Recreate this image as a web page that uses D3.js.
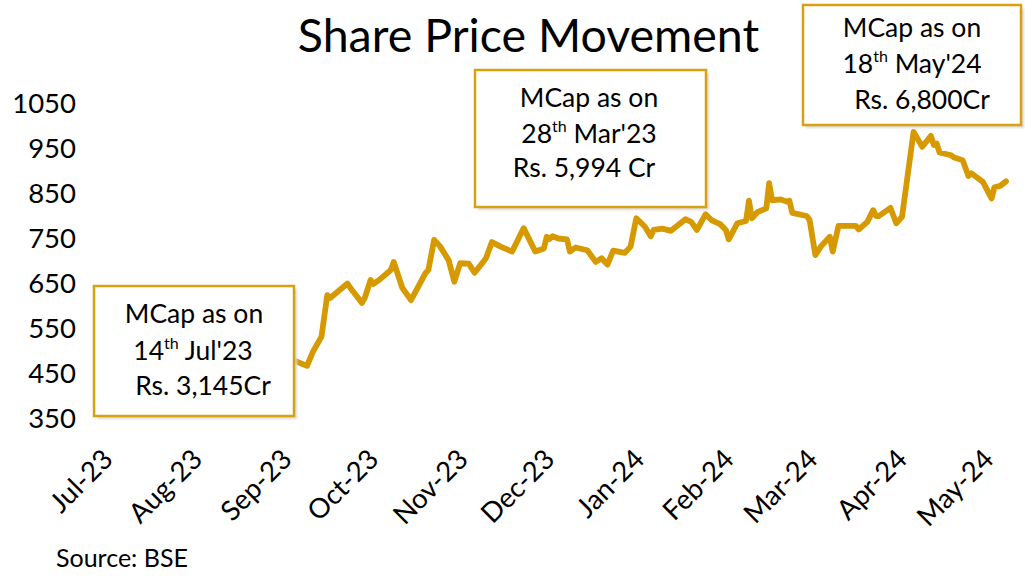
<!DOCTYPE html>
<html>
<head>
<meta charset="utf-8">
<script src="https://cdn.jsdelivr.net/npm/d3@7"></script>
<style>
  body { margin: 0; background: #fff; }
  svg { display: block; font-family: Lato, "Liberation Sans", sans-serif; }
</style>
</head>
<body>
<svg id="chart" width="1025" height="577"></svg>
<script>
// Daily closing share price (Rs.), Jul-23 to May-24
const priceDates = [
  "2023-07-14","2023-08-03","2023-08-21","2023-09-06","2023-09-14","2023-09-19","2023-09-21","2023-09-24",
  "2023-09-26","2023-09-27","2023-10-03","2023-10-04","2023-10-08","2023-10-09","2023-10-11","2023-10-12",
  "2023-10-14","2023-10-18","2023-10-19","2023-10-22","2023-10-25","2023-10-30","2023-10-31","2023-11-02",
  "2023-11-04","2023-11-07","2023-11-09","2023-11-11","2023-11-14","2023-11-16","2023-11-19","2023-11-20",
  "2023-11-22","2023-11-25","2023-11-29","2023-12-03","2023-12-07","2023-12-10","2023-12-11","2023-12-12",
  "2023-12-13","2023-12-15","2023-12-18","2023-12-19","2023-12-21","2023-12-25","2023-12-28","2023-12-30",
  "2024-01-01","2024-01-03","2024-01-07","2024-01-09","2024-01-11","2024-01-14","2024-01-16","2024-01-17",
  "2024-01-20","2024-01-23","2024-01-28","2024-01-30","2024-02-01","2024-02-04","2024-02-06","2024-02-09",
  "2024-02-11","2024-02-12","2024-02-15","2024-02-18","2024-02-19","2024-02-20","2024-02-22","2024-02-25",
  "2024-02-26","2024-02-27","2024-03-01","2024-03-03","2024-03-04","2024-03-05","2024-03-10","2024-03-11",
  "2024-03-13","2024-03-15","2024-03-18","2024-03-19","2024-03-21","2024-03-27","2024-03-28","2024-03-31",
  "2024-04-02","2024-04-03","2024-04-04","2024-04-08","2024-04-10","2024-04-12","2024-04-16","2024-04-19",
  "2024-04-22","2024-04-23","2024-04-24","2024-04-25","2024-04-29","2024-04-30","2024-05-03","2024-05-05",
  "2024-05-06","2024-05-10","2024-05-13","2024-05-14","2024-05-16","2024-05-18"
];
const prices = [
  405, 425, 445, 462, 480, 467, 498, 532,
  624, 618, 650, 640, 607, 618, 658, 649,
  658, 680, 698, 640, 613, 673, 680, 747,
  733, 702, 654, 695, 694, 674, 698, 707,
  742, 732, 721, 773, 721, 728, 754, 749,
  755, 750, 748, 721, 730, 724, 698, 706,
  692, 723, 718, 732, 795, 776, 755, 769,
  772, 767, 793, 787, 769, 804, 791, 782,
  769, 748, 784, 789, 834, 795, 809, 817,
  873, 835, 837, 832, 834, 807, 800, 791,
  713, 733, 754, 721, 778, 778, 770, 787,
  813, 800, 800, 818, 784, 798, 987, 954,
  978, 958, 961, 941, 935, 930, 924, 889,
  895, 876, 839, 864, 867, 877
];

// Axis ticks
const yTicks = [350, 450, 550, 650, 750, 850, 950, 1050];
const monthTicks = ["2023-07-01","2023-08-01","2023-09-01","2023-10-01","2023-11-01","2023-12-01",
                    "2024-01-01","2024-02-01","2024-03-01","2024-04-01","2024-05-01"];

// Market-cap callouts: each line is [text, superscript, text]
const noteJul = [["MCap as on", "", ""], ["14", "th", " Jul'23"], ["Rs. 3,145Cr", "", ""]];
const noteMar = [["MCap as on", "", ""], ["28", "th", " Mar'23"], ["Rs. 5,994 Cr", "", ""]];
const noteMay = [["MCap as on", "", ""], ["18", "th", " May'24"], ["Rs. 6,800Cr", "", ""]];

const parse = d3.utcParse("%Y-%m-%d");
const series = priceDates.map((d, i) => ({ date: parse(d), value: prices[i] }));

const svg = d3.select("#chart");
const lineColor = "#d69a00";
const boxColor = "#d8a112";
const fontStack = "Lato, 'Liberation Sans', sans-serif";

const x = d3.scaleUtc()
  .domain([parse("2023-07-01"), parse("2024-05-18")])
  .range([76, 1006]);
const y = d3.scaleLinear()
  .domain([350, 1050])
  .range([418.5, 103.5]);

// Y axis: labels only
const yAxis = svg.append("g")
  .attr("transform", "translate(76,0)")
  .call(d3.axisLeft(y).tickValues(yTicks).tickSize(0).tickPadding(0).tickFormat(d3.format("d")));
yAxis.select(".domain").remove();
yAxis.selectAll("text")
  .attr("fill", "#000")
  .style("font-size", "27.5px")
  .style("font-family", fontStack);

// X axis: rotated month labels
const xAxis = svg.append("g")
  .attr("transform", "translate(0,461)")
  .call(d3.axisBottom(x).tickValues(monthTicks.map(parse)).tickSize(0).tickFormat(d3.utcFormat("%b-%y")));
xAxis.select(".domain").remove();
xAxis.selectAll("text")
  .attr("y", 0)
  .attr("dy", 0)
  .attr("text-anchor", "end")
  .attr("transform", "translate(38,0) rotate(-45)")
  .attr("fill", "#000")
  .style("font-size", "27.5px")
  .style("font-family", fontStack);

// Price line
const line = d3.line()
  .x(d => x(d.date))
  .y(d => y(d.value));
svg.append("path")
  .datum(series)
  .attr("d", line)
  .attr("fill", "none")
  .attr("stroke", lineColor)
  .attr("stroke-width", 5.8)
  .attr("stroke-linejoin", "round")
  .attr("stroke-linecap", "round");

// Callout boxes
const defs = svg.append("defs");
defs.append("filter").attr("id", "soft")
  .append("feGaussianBlur").attr("stdDeviation", 1);

function callout(box, lines, anchors) {
  const g = svg.append("g");
  g.append("rect")
    .attr("x", box.x + 3).attr("y", box.y + 3)
    .attr("width", box.w).attr("height", box.h)
    .attr("fill", "#d9d9d9")
    .attr("filter", "url(#soft)");
  g.append("rect")
    .attr("x", box.x).attr("y", box.y)
    .attr("width", box.w).attr("height", box.h)
    .attr("fill", "#fff")
    .attr("stroke", boxColor)
    .attr("stroke-width", 2.5);
  lines.forEach((ln, i) => {
    const t = g.append("text")
      .attr("x", anchors[i][0])
      .attr("y", anchors[i][1])
      .attr("text-anchor", "middle")
      .style("font-size", "26.5px")
      .attr("fill", "#000");
    t.append("tspan").text(ln[0]);
    if (ln[1]) {
      t.append("tspan").attr("dy", -11).style("font-size", "16px").text(ln[1]);
      t.append("tspan").attr("dy", 11).text(ln[2]);
    }
  });
}

callout({ x: 94, y: 286, w: 200, h: 130 }, noteJul, [[194, 323], [193, 360], [203, 395]]);
callout({ x: 475, y: 70, w: 231, h: 137 }, noteMar, [[589, 107], [589, 143], [584, 177]]);
callout({ x: 803, y: 5, w: 218, h: 120 }, noteMay, [[912, 37], [912, 73], [922, 109]]);

// Title and source
svg.append("text")
  .attr("x", 528.5).attr("y", 52)
  .attr("text-anchor", "middle")
  .style("font-size", "46.5px")
  .attr("fill", "#000")
  .text("Share Price Movement");

svg.append("text")
  .attr("x", 56).attr("y", 567)
  .style("font-size", "25px")
  .attr("fill", "#000")
  .text("Source: BSE");
</script>
</body>
</html>
